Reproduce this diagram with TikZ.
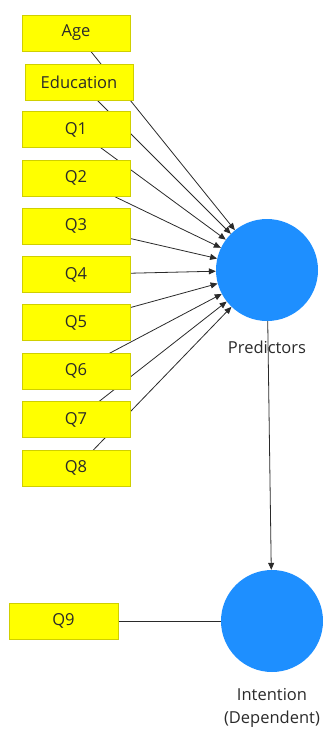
\documentclass[tikz,border=0pt]{standalone}
\usepackage{fontspec}
\setmainfont{Open Sans}
\usetikzlibrary{arrows.meta,backgrounds}
\definecolor{boxfill}{HTML}{FFFF00}
\definecolor{boxedge}{HTML}{CFCF00}
\definecolor{latent}{HTML}{1E8FFF}
\definecolor{ink}{HTML}{2A2A2A}
\tikzset{
  item/.style={draw=boxedge, fill=boxfill, line width=0.8pt, minimum width=108pt,
    minimum height=36pt, inner sep=0pt, text=ink, font=\fontsize{16.5}{19}\selectfont},
  construct/.style={circle, fill=latent, minimum size=102pt, inner sep=0pt},
  caption/.style={text=ink, font=\fontsize{16.5}{23}\selectfont, align=center},
  link/.style={draw=ink, line width=0.8pt},
  path/.style={link, -{Triangle[length=7pt,width=6pt]}}
}
\begin{document}
\begin{tikzpicture}[x=1pt,y=-1pt]
\useasboundingbox (0,0) rectangle (322,729);
% latent variables
\node[construct] (pred) at (267,270) {};
\node[construct] (intent) at (272,621) {};
\node[caption] (predlab) at (267,347) {Predictors};
\node[caption] (intentlab) at (272,708) {Intention\\(Dependent)};
% indicator boxes
\node[item] (age) at (76,33) {Age};
\node[item] (edu) at (79,82) {Education};
\node[item] (q1) at (76,129.5) {Q1};
\node[item] (q2) at (76,178) {Q2};
\node[item] (q3) at (76,226) {Q3};
\node[item] (q4) at (76,274.5) {Q4};
\node[item] (q5) at (76,322.5) {Q5};
\node[item] (q6) at (76,371) {Q6};
\node[item] (q7) at (76,419.5) {Q7};
\node[item] (q8) at (76,468) {Q8};
\node[item, minimum width=109pt] (q9) at (63.5,621) {Q9};
% connectors drawn behind the boxes
\begin{pgfonlayer}{background}
\foreach \n in {age,edu,q1,q2,q3,q4,q5,q6,q7,q8}
  \draw[path] (\n.center) -- (pred);
\draw[path] (pred) -- (intent);
\draw[link] (q9) -- (intent);
\end{pgfonlayer}
\end{tikzpicture}
\end{document}
